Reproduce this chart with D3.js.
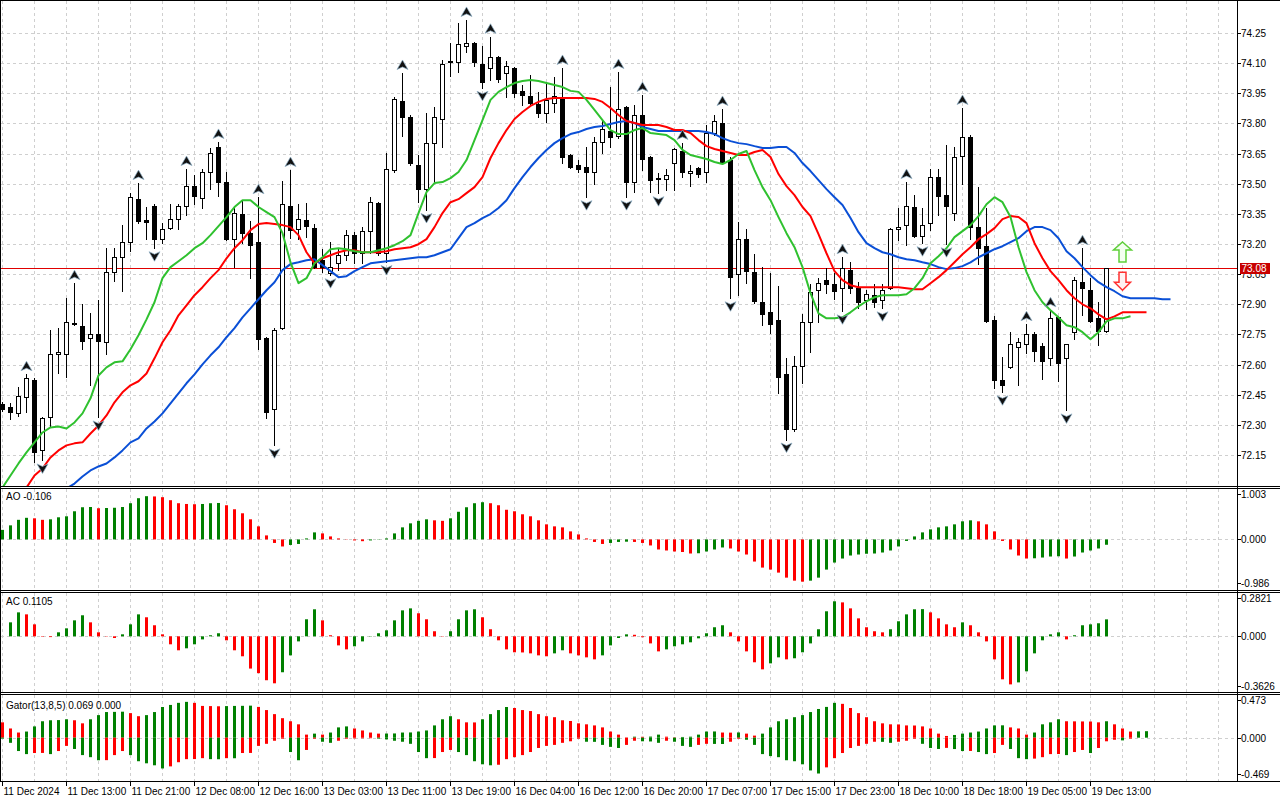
<!DOCTYPE html>
<html><head><meta charset="utf-8">
<script src="https://cdn.jsdelivr.net/npm/d3@7"></script>
<style>
html,body{margin:0;padding:0;background:#fff;}
svg{display:block;font-family:"Liberation Sans",Arial,sans-serif;}
</style></head><body>
<svg id="c" width="1280" height="800"></svg>
<script>
// ---------------- DATA ----------------
const timeLabels = ["11 Dec 2024","11 Dec 13:00","11 Dec 21:00","12 Dec 08:00","12 Dec 16:00","13 Dec 03:00","13 Dec 11:00","13 Dec 19:00","16 Dec 04:00","16 Dec 12:00","16 Dec 20:00","17 Dec 07:00","17 Dec 15:00","17 Dec 23:00","18 Dec 10:00","18 Dec 18:00","19 Dec 05:00","19 Dec 13:00"];
const priceTicks = [74.25,74.10,73.95,73.80,73.65,73.50,73.35,73.20,73.05,72.90,72.75,72.60,72.45,72.30,72.15];
const bidPrice = 73.08;

const open = [72.402,72.387,72.357,72.437,72.522,72.173,72.337,72.651,72.651,72.801,
72.791,72.731,72.751,72.711,73.060,73.134,73.209,73.423,73.319,73.389,
73.224,73.279,73.324,73.389,73.488,73.428,73.558,73.683,73.508,73.224,
73.349,73.254,73.209,72.731,72.377,72.781,73.389,73.274,73.319,73.279,
73.120,73.055,73.105,73.145,73.244,73.155,73.264,73.404,73.155,73.568,
73.912,73.832,73.593,73.473,73.703,73.822,74.106,74.106,74.186,74.201,
74.096,74.076,74.131,74.051,74.076,73.962,73.937,73.897,73.852,73.902,
73.932,73.643,73.593,73.583,73.558,73.708,73.762,73.738,73.882,73.508,
73.842,73.633,73.523,73.523,73.603,73.663,73.553,73.578,73.558,73.752,
73.802,73.618,73.050,73.224,73.060,72.910,72.861,72.821,72.552,72.277,
72.591,72.811,72.970,73.020,73.000,72.980,73.070,72.980,72.920,72.945,
72.920,72.980,73.274,73.294,73.384,73.239,73.304,73.533,73.443,73.354,
73.638,73.733,73.284,73.189,72.821,72.522,72.587,72.686,72.701,72.751,
72.691,72.631,72.836,72.631,72.761,73.010,72.970,72.831,72.766];
const high = [72.412,72.407,72.487,72.552,72.532,72.337,72.771,72.781,72.930,73.005,
72.900,72.855,72.920,73.179,73.179,73.294,73.453,73.503,73.384,73.399,
73.304,73.399,73.399,73.573,73.543,73.573,73.678,73.708,73.558,73.379,
73.414,73.314,73.433,72.736,72.781,73.513,73.568,73.399,73.404,73.299,
73.175,73.209,73.179,73.269,73.259,73.284,73.433,73.409,73.653,73.932,
74.051,73.842,73.643,73.852,73.882,74.116,74.201,74.300,74.315,74.206,
74.186,74.231,74.136,74.111,74.081,73.992,74.041,73.957,74.001,74.031,
74.076,73.648,73.618,73.683,73.733,73.817,73.981,74.056,73.887,73.892,
73.942,73.638,73.553,73.573,73.678,73.703,73.593,73.583,73.792,73.842,
73.872,73.633,73.309,73.274,73.150,73.085,73.055,72.990,72.632,72.641,
72.850,73.000,73.030,73.080,73.055,73.134,73.110,73.010,72.970,73.000,
73.000,73.279,73.379,73.508,73.443,73.379,73.573,73.573,73.693,73.683,
73.877,73.742,73.483,73.379,72.840,72.636,72.761,72.731,72.801,72.761,
72.706,72.870,72.840,72.701,73.035,73.179,73.030,72.910,73.080];
const low = [72.367,72.327,72.342,72.362,72.113,72.123,72.292,72.557,72.537,72.796,
72.676,72.497,72.337,72.651,73.015,72.965,73.164,73.304,73.224,73.179,
73.204,73.274,73.274,73.344,73.399,73.379,73.473,73.438,73.219,73.085,
73.204,73.030,72.676,72.332,72.198,72.776,73.229,73.224,73.234,73.080,
73.060,73.045,73.070,73.120,73.105,73.105,73.155,73.145,73.110,73.558,
73.738,73.593,73.409,73.369,73.503,73.683,74.036,74.056,74.156,74.086,
73.977,74.016,74.006,73.932,73.932,73.892,73.892,73.832,73.808,73.857,
73.603,73.578,73.558,73.433,73.498,73.653,73.683,73.728,73.433,73.458,
73.568,73.458,73.453,73.468,73.468,73.533,73.488,73.533,73.508,73.742,
73.603,72.930,72.945,73.005,72.905,72.796,72.756,72.457,72.227,72.267,
72.507,72.661,72.811,72.955,72.925,72.865,72.955,72.880,72.876,72.885,
72.880,72.975,73.219,73.194,73.234,73.204,73.269,73.344,73.199,73.319,
73.498,73.224,73.100,72.811,72.482,72.462,72.582,72.497,72.656,72.616,
72.527,72.597,72.517,72.372,72.726,72.845,72.811,72.696,72.761];
const close = [72.377,72.362,72.442,72.532,72.163,72.332,72.651,72.661,72.811,72.806,
72.716,72.751,72.716,73.060,73.134,73.209,73.433,73.314,73.309,73.224,
73.274,73.324,73.389,73.488,73.438,73.558,73.653,73.508,73.224,73.354,
73.254,73.194,72.726,72.362,72.771,73.399,73.269,73.324,73.289,73.085,
73.085,73.085,73.145,73.244,73.155,73.264,73.409,73.155,73.573,73.922,
73.832,73.603,73.473,73.703,73.832,74.096,74.111,74.196,74.201,74.106,
74.006,74.131,74.021,74.086,73.952,73.942,73.902,73.852,73.917,73.937,
73.633,73.583,73.573,73.558,73.708,73.772,73.733,73.872,73.508,73.842,
73.623,73.518,73.528,73.543,73.673,73.558,73.563,73.548,73.752,73.812,
73.608,73.035,73.224,73.065,72.915,72.851,72.801,72.537,72.277,72.591,
72.811,72.960,73.005,73.000,72.965,73.080,72.980,72.910,72.950,72.910,
72.970,73.274,73.284,73.389,73.239,73.294,73.533,73.438,73.389,73.633,
73.733,73.284,73.179,72.816,72.522,72.497,72.701,72.711,72.751,72.666,
72.616,72.831,72.606,72.701,73.020,72.980,72.816,72.766,73.080];

const upFractals = [3,9,17,23,27,32,36,50,58,61,70,77,80,85,90,105,113,120,128,131,135];
const downFractals = [5,12,19,34,41,48,53,60,73,78,82,91,98,105,110,115,118,125,133];

// Alligator (already shifted forward)
const lips = [71.988,72.048,72.108,72.163,72.213,72.262,72.287,72.292,72.282,72.312,
72.357,72.432,72.546,72.586,72.611,72.616,72.676,72.746,72.825,72.910,
73.030,73.085,73.114,73.144,73.179,73.204,73.244,73.289,73.334,73.384,
73.418,73.418,73.384,73.359,73.334,73.254,73.109,73.005,73.030,73.104,
73.134,73.174,73.179,73.174,73.164,73.159,73.159,73.169,73.179,73.194,
73.214,73.244,73.354,73.458,73.503,73.508,73.528,73.558,73.618,73.717,
73.817,73.917,73.957,73.981,74.001,74.011,74.016,74.011,74.001,73.991,
73.981,73.962,73.957,73.917,73.867,73.817,73.767,73.747,73.747,73.767,
73.777,73.752,73.747,73.742,73.717,73.668,73.643,73.633,73.623,73.608,
73.598,73.618,73.648,73.663,73.568,73.483,73.418,73.334,73.254,73.184,
73.085,72.955,72.855,72.830,72.830,72.835,72.860,72.890,72.915,72.935,
72.945,72.945,72.945,72.950,72.980,73.030,73.104,73.139,73.179,73.234,
73.264,73.294,73.339,73.398,73.433,73.408,73.334,73.184,73.060,72.970,
72.910,72.870,72.835,72.796,72.786,72.761,72.726,72.761,72.815,72.830,
72.830,72.840];
const teeth = [71.899,71.934,71.963,71.988,72.048,72.083,72.138,72.173,72.198,72.208,
72.213,72.257,72.297,72.347,72.412,72.462,72.497,72.517,72.556,72.631,
72.711,72.771,72.845,72.895,72.945,72.985,73.030,73.070,73.129,73.179,
73.219,73.269,73.299,73.304,73.299,73.294,73.284,73.244,73.159,73.104,
73.129,73.144,73.159,73.169,73.169,73.159,73.159,73.159,73.164,73.174,
73.179,73.184,73.199,73.224,73.284,73.354,73.408,73.423,73.453,73.483,
73.533,73.628,73.702,73.767,73.822,73.857,73.887,73.907,73.922,73.927,
73.927,73.927,73.927,73.927,73.922,73.907,73.877,73.842,73.812,73.802,
73.792,73.792,73.792,73.782,73.767,73.767,73.752,73.717,73.687,73.673,
73.663,73.653,73.643,73.643,73.658,73.668,73.633,73.548,73.488,73.443,
73.384,73.339,73.249,73.154,73.065,73.020,72.995,72.985,72.985,72.985,
72.985,72.985,72.985,72.980,72.975,72.975,73.005,73.035,73.070,73.109,
73.149,73.184,73.224,73.249,73.279,73.324,73.339,73.334,73.304,73.204,
73.129,73.065,73.020,72.970,72.930,72.900,72.880,72.850,72.825,72.840,
72.860,72.860,72.860,72.860];
const jaw = [71.799,71.824,71.849,71.874,71.899,71.924,71.944,71.963,71.983,72.008,
72.043,72.073,72.093,72.108,72.138,72.173,72.213,72.233,72.282,72.317,
72.357,72.407,72.457,72.507,72.551,72.601,72.646,72.686,72.736,72.781,
72.835,72.880,72.925,72.970,73.010,73.070,73.100,73.109,73.119,73.124,
73.095,73.065,73.035,73.040,73.065,73.085,73.104,73.109,73.114,73.119,
73.124,73.129,73.134,73.134,73.144,73.159,73.174,73.229,73.284,73.304,
73.329,73.349,73.379,73.418,73.478,73.533,73.583,73.628,73.668,73.702,
73.727,73.747,73.757,73.772,73.782,73.787,73.797,73.807,73.812,73.802,
73.782,73.772,73.762,73.762,73.762,73.762,73.762,73.762,73.757,73.747,
73.727,73.712,73.702,73.697,73.687,73.678,73.678,73.683,73.683,73.653,
73.603,73.563,73.518,73.473,73.433,73.394,73.329,73.259,73.204,73.179,
73.159,73.149,73.134,73.124,73.119,73.109,73.100,73.085,73.075,73.080,
73.090,73.109,73.134,73.154,73.174,73.189,73.209,73.229,73.264,73.284,
73.284,73.269,73.229,73.164,73.129,73.085,73.045,73.010,72.985,72.965,
72.940,72.930,72.930,72.930,72.930,72.925,72.925];

// signal arrows (bar, arrow tip prices)
const signalBar = [140];
const signalUpTip = [73.21];
const signalDownTip = [72.97];

// Awesome Oscillator
const aoPrev = 0.12;
const ao = [0.19,0.28,0.39,0.43,0.42,0.39,0.40,0.44,0.46,0.56,
0.64,0.645,0.62,0.625,0.63,0.645,0.72,0.82,0.86,0.855,
0.84,0.78,0.72,0.705,0.70,0.705,0.72,0.725,0.68,0.60,
0.52,0.40,0.26,0.08,-0.07,-0.14,-0.11,-0.09,0.02,0.14,
0.12,0.06,0.02,0.005,-0.02,-0.035,-0.02,0.005,0.02,0.12,
0.24,0.32,0.37,0.40,0.38,0.37,0.42,0.55,0.64,0.72,
0.74,0.72,0.68,0.59,0.56,0.50,0.46,0.38,0.30,0.26,
0.24,0.16,0.10,0.02,-0.05,-0.09,-0.07,-0.05,-0.045,-0.05,
-0.07,-0.12,-0.20,-0.22,-0.24,-0.25,-0.28,-0.275,-0.24,-0.20,
-0.16,-0.18,-0.24,-0.30,-0.44,-0.56,-0.60,-0.66,-0.76,-0.82,
-0.84,-0.82,-0.76,-0.60,-0.46,-0.38,-0.32,-0.30,-0.285,-0.28,
-0.26,-0.22,-0.14,-0.03,0.06,0.14,0.20,0.24,0.26,0.30,
0.36,0.38,0.36,0.30,0.16,-0.03,-0.20,-0.32,-0.38,-0.375,
-0.36,-0.34,-0.335,-0.38,-0.34,-0.26,-0.22,-0.18,-0.106];
const aoRange = [-0.986, 1.003];

// Accelerator Oscillator
const acPrev = -0.02;
const ac = [0.0,0.091,0.156,0.143,0.078,-0.003,-0.005,0.026,0.052,0.104,
0.137,0.091,0.026,-0.002,-0.011,0.013,0.078,0.143,0.124,0.072,
0.013,-0.052,-0.091,-0.078,-0.052,-0.020,0.007,0.020,-0.026,-0.091,
-0.130,-0.210,-0.240,-0.286,-0.306,-0.234,-0.124,-0.033,0.111,0.176,
0.104,0.007,-0.059,-0.085,-0.065,-0.033,-0.002,0.020,0.039,0.104,
0.169,0.182,0.150,0.111,0.033,-0.002,0.033,0.111,0.169,0.176,
0.124,0.046,-0.026,-0.085,-0.104,-0.105,-0.111,-0.124,-0.130,-0.111,
-0.091,-0.111,-0.124,-0.137,-0.150,-0.124,-0.059,-0.011,0.013,0.010,
-0.006,-0.046,-0.098,-0.085,-0.065,-0.052,-0.039,-0.013,0.020,0.059,
0.072,0.026,-0.033,-0.098,-0.169,-0.215,-0.176,-0.137,-0.150,-0.143,
-0.104,-0.046,0.046,0.163,0.228,0.221,0.182,0.117,0.059,0.033,
0.026,0.046,0.098,0.143,0.176,0.177,0.156,0.117,0.078,0.059,
0.091,0.072,0.026,-0.033,-0.150,-0.280,-0.313,-0.300,-0.228,-0.111,
-0.026,0.013,0.026,-0.020,0.007,0.072,0.078,0.085,0.1105];
const acRange = [-0.3626, 0.2821];

// Gator oscillator (upper = |jaw-teeth|, lower = |teeth-lips|)
const gatorUpPrev = 0.20, gatorDownPrev = 0.0;
const gatorUp = [0.170,0.102,0.057,0.068,0.125,0.182,0.193,0.195,0.204,0.193,
0.159,0.204,0.250,0.284,0.286,0.288,0.272,0.238,0.250,0.284,
0.340,0.363,0.386,0.397,0.386,0.352,0.350,0.348,0.350,0.352,
0.353,0.355,0.341,0.306,0.261,0.216,0.182,0.148,0.034,0.045,
0.034,0.057,0.114,0.125,0.102,0.080,0.057,0.045,0.046,0.047,
0.057,0.058,0.068,0.080,0.136,0.204,0.238,0.204,0.170,0.169,
0.204,0.261,0.306,0.340,0.329,0.306,0.295,0.261,0.238,0.227,
0.193,0.185,0.159,0.148,0.136,0.114,0.068,0.034,0.003,0.011,
0.010,0.012,0.034,0.011,0.004,0.008,0.011,0.034,0.068,0.069,
0.057,0.056,0.058,0.045,0.023,0.045,0.114,0.182,0.204,0.227,
0.250,0.284,0.318,0.341,0.386,0.375,0.329,0.272,0.227,0.182,
0.159,0.148,0.147,0.136,0.135,0.125,0.102,0.045,0.019,0.030,
0.045,0.057,0.068,0.102,0.136,0.137,0.114,0.102,0.034,0.057,
0.148,0.170,0.204,0.182,0.181,0.180,0.179,0.170,0.182,0.148,
0.102,0.068,0.070,0.072];
const gatorDown = [0.010,0.057,0.148,0.182,0.170,0.169,0.182,0.148,0.091,0.125,
0.193,0.216,0.250,0.249,0.193,0.148,0.193,0.261,0.284,0.306,
0.341,0.318,0.272,0.238,0.237,0.227,0.238,0.239,0.227,0.228,
0.170,0.169,0.091,0.068,0.034,0.011,0.159,0.250,0.136,0.011,
0.045,0.057,0.034,0.011,0.008,0.007,0.006,0.010,0.019,0.034,
0.045,0.068,0.159,0.227,0.226,0.159,0.136,0.159,0.193,0.261,
0.295,0.306,0.300,0.238,0.216,0.193,0.159,0.114,0.091,0.080,
0.057,0.040,0.011,0.045,0.046,0.080,0.102,0.114,0.080,0.034,
0.040,0.042,0.057,0.034,0.045,0.091,0.102,0.080,0.068,0.069,
0.070,0.045,0.011,0.023,0.080,0.182,0.204,0.216,0.250,0.261,
0.295,0.363,0.397,0.329,0.227,0.170,0.114,0.091,0.068,0.045,
0.046,0.057,0.045,0.034,0.011,0.068,0.114,0.125,0.113,0.126,
0.148,0.147,0.159,0.182,0.170,0.080,0.125,0.227,0.238,0.232,
0.216,0.182,0.181,0.193,0.159,0.136,0.170,0.114,0.040,0.023,
0.030,0.010];
const gatorRange = [-0.469, 0.473];

const titles = {ao:"AO -0.106", ac:"AC 0.1105", gator:"Gator(13,8,5) 0.069 0.000"};

// ---------------- DRAW ----------------
const W = 1280, H = 800, AX = 1237;
const GREEN = "#008000", RED = "#ff0000";
const svg = d3.select("#c");
svg.append("rect").attr("width", W).attr("height", H).attr("fill", "#fff");

const x = d3.scaleLinear().domain([0, 146]).range([2.5, 2.5 + 8 * 146]);
const y = d3.scaleLinear().domain([72.15, 74.25]).range([455, 33]);
const yAO = d3.scaleLinear().domain(aoRange).range([589, 489]);
const yAC = d3.scaleLinear().domain(acRange).range([692, 593]);
const yG = d3.scaleLinear().domain(gatorRange).range([780, 695]);

const panels = [
  {id: "main", top: 1, bottom: 486},
  {id: "ao", top: 489, bottom: 590},
  {id: "ac", top: 593, bottom: 692},
  {id: "gator", top: 695, bottom: 781}
];
const defs = svg.append("defs");
panels.forEach(p => {
  defs.append("clipPath").attr("id", "clip-" + p.id)
    .append("rect").attr("x", 1).attr("y", p.top).attr("width", AX - 1).attr("height", p.bottom - p.top);
});

const gridColor = "#cfcfcf";
const gridBars = d3.range(0, 160, 4).filter(b => x(b) < AX - 1);
panels.forEach(p => {
  const g = svg.append("g").attr("clip-path", `url(#clip-${p.id})`);
  g.selectAll("line").data(gridBars).join("line")
    .attr("x1", b => x(b)).attr("x2", b => x(b))
    .attr("y1", p.top).attr("y2", p.bottom)
    .attr("stroke", gridColor).attr("stroke-dasharray", "3,3");
});
svg.append("g").selectAll("line").data(priceTicks).join("line")
  .attr("x1", 1).attr("x2", AX)
  .attr("y1", d => Math.round(y(d)) + 0.5).attr("y2", d => Math.round(y(d)) + 0.5)
  .attr("stroke", gridColor).attr("stroke-dasharray", "3,3");
[yAO, yAC, yG].forEach(s => {
  svg.append("line").attr("x1", 1).attr("x2", AX)
    .attr("y1", Math.round(s(0)) + 0.5).attr("y2", Math.round(s(0)) + 0.5)
    .attr("stroke", gridColor).attr("stroke-dasharray", "3,3");
});

// ---- main chart ----
const gm = svg.append("g").attr("clip-path", "url(#clip-main)");
gm.append("line").attr("x1", 1).attr("x2", AX)
  .attr("y1", Math.round(y(bidPrice)) + 0.5).attr("y2", Math.round(y(bidPrice)) + 0.5)
  .attr("stroke", "#e00000").attr("stroke-width", 1);

const bars = d3.range(open.length);
const candles = gm.append("g");
bars.forEach(i => {
  const cx = x(i);
  candles.append("line").attr("x1", cx).attr("x2", cx)
    .attr("y1", Math.round(y(high[i]))).attr("y2", Math.round(y(low[i])) + 1)
    .attr("stroke", "#000").attr("stroke-width", 1);
  const yo = Math.round(y(open[i])), yc = Math.round(y(close[i]));
  const top = Math.min(yo, yc), bot = Math.max(yo, yc);
  if (bot - top < 1) {
    candles.append("line").attr("x1", cx - 2.5).attr("x2", cx + 2.5)
      .attr("y1", top + 0.5).attr("y2", top + 0.5).attr("stroke", "#000");
  } else if (close[i] >= open[i]) {
    candles.append("rect").attr("x", cx - 2).attr("y", top + 0.5)
      .attr("width", 4).attr("height", bot - top)
      .attr("fill", "#fff").attr("stroke", "#000").attr("stroke-width", 1);
  } else {
    candles.append("rect").attr("x", cx - 2.5).attr("y", top)
      .attr("width", 5).attr("height", bot - top + 1).attr("fill", "#000");
  }
});

const lineGen = d3.line().x((d, i) => x(i)).y(d => y(d));
[[jaw, "#0a4fd6"], [teeth, "#ff0000"], [lips, "#2fc12f"]].forEach(([arr, col]) => {
  gm.append("path").attr("d", lineGen(arr)).attr("fill", "none")
    .attr("stroke", col).attr("stroke-width", 2).attr("stroke-linejoin", "round");
});

const upArrow = "M0,-5 L5.5,4.5 L0,2 L-5.5,4.5 Z";
const downArrow = "M0,5 L5.5,-4.5 L0,-2 L-5.5,-4.5 Z";
gm.append("g").selectAll("path").data(upFractals).join("path")
  .attr("d", upArrow)
  .attr("transform", i => `translate(${x(i)},${y(high[i]) - 8})`)
  .attr("fill", "#111").attr("stroke", "#8fb2c8").attr("stroke-width", 0.7);
gm.append("g").selectAll("path").data(downFractals).join("path")
  .attr("d", downArrow)
  .attr("transform", i => `translate(${x(i)},${y(low[i]) + 8})`)
  .attr("fill", "#111").attr("stroke", "#8fb2c8").attr("stroke-width", 0.7);

signalBar.forEach((b, k) => {
  const cx = x(b), t = y(signalUpTip[k]), d = y(signalDownTip[k]);
  gm.append("path")
    .attr("d", `M${cx},${t} L${cx + 9},${t + 8} L${cx + 3.5},${t + 8} L${cx + 3.5},${t + 20} L${cx - 3.5},${t + 20} L${cx - 3.5},${t + 8} L${cx - 9},${t + 8} Z`)
    .attr("fill", "#f4fff0").attr("stroke", "#5fcf3a").attr("stroke-width", 1.5);
  gm.append("path")
    .attr("d", `M${cx},${d} L${cx + 8},${d - 8} L${cx + 3.5},${d - 8} L${cx + 3.5},${d - 18} L${cx - 3.5},${d - 18} L${cx - 3.5},${d - 8} L${cx - 8},${d - 8} Z`)
    .attr("fill", "#fff2f2").attr("stroke", "#ff3030").attr("stroke-width", 1.5);
});

// ---- histograms ----
// sign = +1 draws values upward from zero, -1 draws magnitudes downward
function hist(id, values, prev, scale, sign) {
  const g = svg.append("g").attr("clip-path", `url(#clip-${id})`);
  const z = scale(0);
  values.forEach((v, i) => {
    const p = i === 0 ? prev : values[i - 1];
    const col = v > p ? GREEN : RED;
    const yv = scale(sign * v);
    g.append("rect").attr("x", x(i) - 1.5).attr("width", 3)
      .attr("y", Math.min(yv, z)).attr("height", Math.abs(yv - z))
      .attr("fill", col);
  });
}
hist("ao", ao, aoPrev, yAO, 1);
hist("ac", ac, acPrev, yAC, 1);
hist("gator", gatorUp, gatorUpPrev, yG, 1);
hist("gator", gatorDown, gatorDownPrev, yG, -1);

// ---- frames ----
const frame = svg.append("g").attr("stroke", "#000").attr("stroke-width", 1);
[0.5, 486.5, 488.5, 590.5, 592.5, 692.5, 694.5, 781.5].forEach(v => {
  frame.append("line").attr("x1", 0).attr("x2", W).attr("y1", v).attr("y2", v);
});
frame.append("line").attr("x1", 0.5).attr("x2", 0.5).attr("y1", 0).attr("y2", 781.5);
frame.append("line").attr("x1", AX + 0.5).attr("x2", AX + 0.5).attr("y1", 0).attr("y2", 781.5);

// ---- right axis ----
const ax = svg.append("g").attr("font-size", 10).attr("fill", "#000");
priceTicks.forEach(t => {
  const yy = Math.round(y(t)) + 0.5;
  ax.append("line").attr("x1", AX).attr("x2", AX + 4).attr("y1", yy).attr("y2", yy).attr("stroke", "#000");
  ax.append("text").attr("x", AX + 4).attr("y", yy + 3.5).text(t.toFixed(2));
});
function panelLabels(scale, range, fmtTop, fmtBot) {
  const items = [[scale(range[1]) + 5, fmtTop], [scale(0), "0.000"], [scale(range[0]) - 6, fmtBot]];
  items.forEach(([yy, txt]) => {
    const yr = Math.round(yy) + 0.5;
    ax.append("line").attr("x1", AX).attr("x2", AX + 4).attr("y1", yr).attr("y2", yr).attr("stroke", "#000");
    ax.append("text").attr("x", AX + 4).attr("y", yr + 3.5).text(txt);
  });
}
panelLabels(yAO, aoRange, "1.003", "-0.986");
panelLabels(yAC, acRange, "0.2821", "-0.3626");
panelLabels(yG, gatorRange, "0.473", "-0.469");

// price tag (covers the upper part of the nearby axis label, as in the terminal)
const by = Math.round(y(bidPrice));
svg.append("rect").attr("x", AX + 3).attr("y", by - 5).attr("width", 30).attr("height", 11).attr("fill", "#c80000");
svg.append("text").attr("x", AX + 4.5).attr("y", by + 4).attr("font-size", 10).attr("fill", "#fff").text(bidPrice.toFixed(2));

// panel titles
svg.append("text").attr("x", 6).attr("y", 500).attr("font-size", 10).text(titles.ao);
svg.append("text").attr("x", 6).attr("y", 605).attr("font-size", 10).text(titles.ac);
svg.append("text").attr("x", 6).attr("y", 709).attr("font-size", 10).text(titles.gator);

// ---- time axis ----
const tg = svg.append("g").attr("font-size", 10);
timeLabels.forEach((lab, k) => {
  const xx = x(k * 8);
  tg.append("line").attr("x1", xx).attr("x2", xx).attr("y1", 781).attr("y2", 786).attr("stroke", "#000");
  tg.append("text").attr("x", xx + 1).attr("y", 795).text(lab);
});
</script>
</body></html>
